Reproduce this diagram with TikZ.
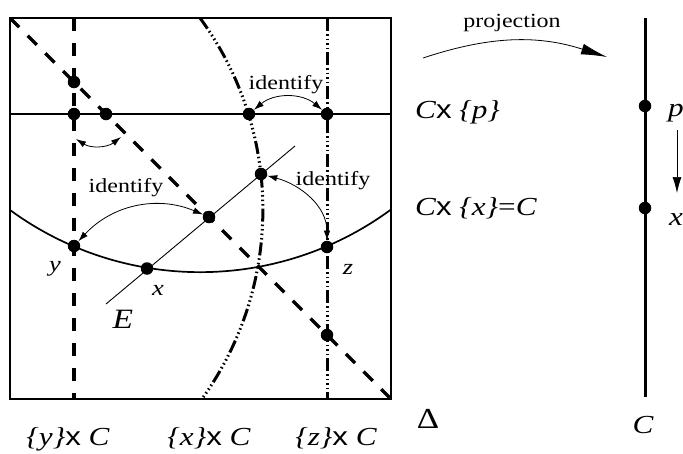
\documentclass[tikz,border=0pt]{standalone}
\usepackage{fontspec}
\setmainfont{Liberation Serif}[FakeStretch=1.2]
\setsansfont{Liberation Sans}[FakeStretch=1.2]
\usetikzlibrary{arrows.meta}
\newcommand{\tx}{{\sffamily\upshape x}}

\begin{document}
\begin{tikzpicture}[x=1pt, y=1pt,
  dot/.style={circle, fill, inner sep=0pt, minimum size=12.5pt},
  fiber/.style={line width=3.2pt, dash pattern=on 13pt off 12pt},
  orbit/.style={line width=3pt, dash pattern=on 13pt off 3pt on 1.5pt off 3pt on 1.5pt off 3pt on 1.5pt off 3pt on 1.5pt off 3pt},
  ident/.style={{Latex[length=10pt,width=6.5pt]}-{Latex[length=10pt,width=6.5pt]}, line width=0.8pt},
  lbl/.style={font=\fontsize{20}{24}\selectfont, inner sep=0pt},
  mlbl/.style={font=\fontsize{26}{30}\selectfont\itshape, inner sep=0pt}]
  \useasboundingbox (0,0) rectangle (683,-453);
  % the surface Delta x C
  \draw[line width=1.1pt] (10,-18) rectangle (391,-399);
  \draw[line width=1.5pt] (10,-114) -- (391,-114);
  \draw[line width=1.7pt] (10,-210) arc[start angle=233.8, end angle=306.3, radius=322];
  \coordinate (Ea) at (106,-304);
  \coordinate (Eb) at (295,-146);
  \draw[line width=0.9pt] (Ea) -- (Eb);
  \draw[fiber] (74,-18) -- (74,-399);
  \draw[fiber] (10,-18) -- (391,-399);
  \draw[orbit] (327,-18) -- (327,-399);
  \draw[orbit] (200,-18) arc[start angle=36.3, end angle=-35.7, radius=324];
  % points
  \node[dot] (yt) at (74,-82) {};
  \node[dot] (yh) at (74,-114) {};
  \node[dot] (dh) at (106,-114) {};
  \node[dot] (xh) at (249,-114) {};
  \node[dot] (zh) at (327,-114) {};
  \node[dot] (e1) at (261,-174) {};
  \node[dot] (e2) at (209,-217) {};
  \node[dot] (yd) at (74,-246) {};
  \node[dot] (xd) at (147,-268.5) {};
  \node[dot] (zd) at (327,-247) {};
  \node[dot] (zl) at (327,-335) {};
  % identifications
  \coordinate (al) at (76,-139);
  \coordinate (ar) at (121,-137);
  \draw[ident] (al) to[bend right=35] (ar);
  \draw[ident] (xh) to[bend left=40] (zh);
  \draw[ident] (e2) to[bend right=35] (yd);
  \draw[ident] (e1) to[out=-15, in=90] (zd);
  \node[lbl, anchor=base] (id1) at (286,-89) {identify};
  \node[lbl, anchor=base] (id2) at (126,-192) {identify};
  \node[lbl, anchor=base] (id3) at (333,-185) {identify};
  \node[lbl, font=\fontsize{22}{26}\selectfont\itshape] (ly) at (55,-269) {y};
  \node[lbl, font=\fontsize{22}{26}\selectfont\itshape] (lx) at (158,-290) {x};
  \node[lbl, font=\fontsize{22}{26}\selectfont\itshape] (lz) at (348,-269) {z};
  \node[mlbl, font=\fontsize{28}{32}\selectfont\itshape] (lE) at (123,-319) {E};
  \node[mlbl, anchor=base] (fy) at (68,-445) {\{y\}\tx\ C};
  \node[mlbl, anchor=base] (fx) at (209,-445) {\{x\}\tx\ C};
  \node[mlbl, anchor=base] (fz) at (336,-445) {\{z\}\tx\ C};
  \node[mlbl, font=\fontsize{29}{32}\selectfont] (delta) at (428,-419) {Δ};
  \node[mlbl, anchor=base west] (cp) at (415,-118) {C\tx\ \{p\}};
  \node[mlbl, anchor=base west] (cx) at (415,-215) {C\tx\ \{x\}\textup{=}C};
  % projection to the curve C
  \coordinate (pj1) at (423,-58);
  \coordinate (pj2) at (607,-57);
  \draw[-{Latex[length=26pt,width=11pt]}, line width=0.8pt] (pj1) to[bend left=18] (pj2);
  \node[lbl, anchor=base] (proj) at (512,-27) {projection};
  \coordinate (ct) at (645,-18);
  \coordinate (cb) at (645,-397);
  \draw[line width=3pt] (ct) -- (cb);
  \node[dot] (Cp) at (645,-106) {};
  \node[dot] (Cx) at (645,-208) {};
  \node[mlbl] (lp) at (676,-113) {p};
  \node[mlbl] (lxr) at (676,-220) {x};
  \node[mlbl] (lC) at (643,-425) {C};
  \coordinate (pa1) at (677,-130);
  \coordinate (pa2) at (677,-193);
  \draw[-{Latex[length=16pt,width=9pt]}, line width=0.7pt] (pa1) -- (pa2);
\end{tikzpicture}
\end{document}
